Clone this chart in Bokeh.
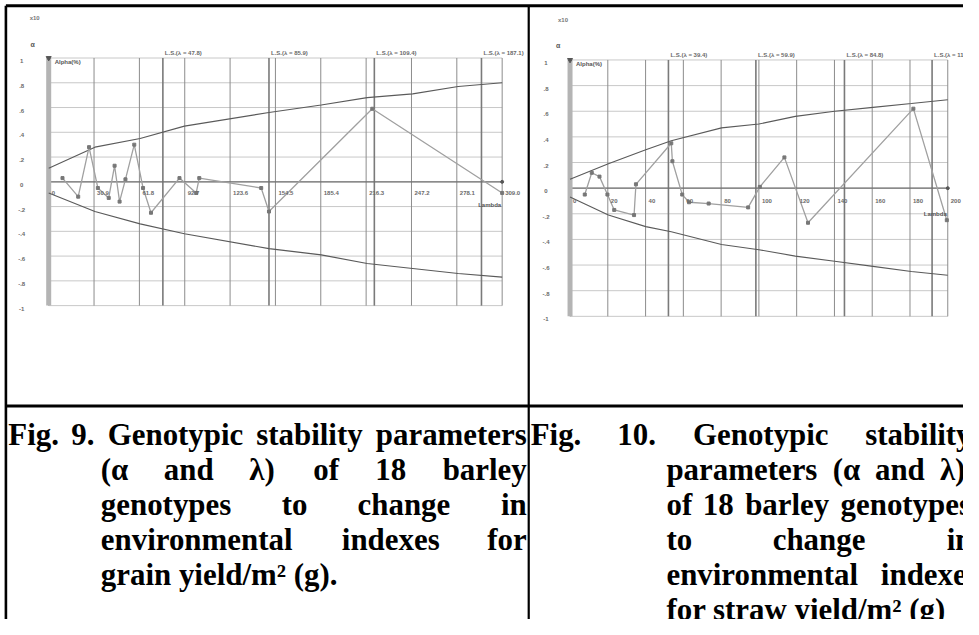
from bokeh.plotting import figure
from bokeh.models import Range1d
from bokeh.embed import file_html
from bokeh.resources import INLINE
from bokeh.core.properties import value

# ---------------- data ----------------
# Fig. 9 : grain yield/m2  -- lambda (x) and alpha (y) of 18 genotypes, sorted by lambda
grain_lambda = [9.4, 20.1, 27.5, 33.5, 40.9, 44.9, 48.3, 52.3, 58.3, 64.3, 69.7,
                89.1, 100.5, 102.6, 144.8, 150.1, 220.5, 309.0]
grain_alpha = [0.03, -0.12, 0.28, -0.05, -0.13, 0.13, -0.16, 0.02, 0.30, -0.05, -0.25,
               0.03, -0.09, 0.03, -0.05, -0.24, 0.59, -0.09]
grain_lim_lambda = [0, 31.5, 62.3, 92.5, 150.1, 185.7, 217.0, 248.0, 279.0, 309.0]
grain_lim_upper = [0.11, 0.28, 0.35, 0.45, 0.56, 0.62, 0.68, 0.71, 0.77, 0.80]
grain_lim_lower = [-0.09, -0.24, -0.34, -0.42, -0.54, -0.59, -0.66, -0.70, -0.74, -0.77]
grain_ls = [77.8, 150.1, 221.9, 294.9]
grain_ls_labels = ["L.S.(λ = 47.8)", "L.S.(λ = 85.9)", "L.S.(λ = 109.4)", "L.S.(λ = 187.1)"]
grain_xticks = [0, 30.9, 61.8, 92.7, 123.6, 154.5, 185.4, 216.3, 247.2, 278.1, 309.0]
grain_xlabels = ["0", "30.9", "61.8", "92.7", "123.6", "154.5", "185.4", "216.3", "247.2", "278.1", "309.0"]

# Fig. 10 : straw yield/m2
straw_lambda = [7.8, 11.5, 15.6, 19.8, 23.4, 33.9, 34.9, 53.6, 54.2, 59.4, 63.0,
                73.4, 94.3, 100.5, 113.5, 126.0, 181.8, 199.5]
straw_alpha = [-0.05, 0.12, 0.09, -0.05, -0.17, -0.21, 0.03, 0.35, 0.21, -0.05, -0.11,
               -0.12, -0.15, 0.01, 0.24, -0.27, 0.62, -0.25]
straw_lim_lambda = [0, 20.3, 40.1, 53.6, 80.2, 100.0, 119.3, 140.1, 160.4, 180.7, 200.0]
straw_lim_upper = [0.07, 0.19, 0.30, 0.37, 0.47, 0.50, 0.56, 0.60, 0.63, 0.66, 0.69]
straw_lim_lower = [-0.07, -0.21, -0.30, -0.34, -0.44, -0.48, -0.53, -0.57, -0.61, -0.65, -0.68]
straw_ls = [52.1, 98.4, 145.3, 191.7]
straw_ls_labels = ["L.S.(λ = 39.4)", "L.S.(λ = 59.9)", "L.S.(λ = 84.8)", "L.S.(λ = 112.6)"]
straw_xticks = [0, 20, 40, 60, 80, 100, 120, 140, 160, 180, 200]
straw_xlabels = ["0", "20", "40", "60", "80", "100", "120", "140", "160", "180", "200"]

alpha_ticks = [1.0, 0.8, 0.6, 0.4, 0.2, 0.0, -0.2, -0.4, -0.6, -0.8, -1.0]
alpha_labels = ["1", ".8", ".6", ".4", ".2", "0", "-.2", "-.4", "-.6", "-.8", "-1"]

# captions: (word, x in the reference's pixel frame, alignment) -- justified table text layout
caption_left = [
    [("Fig.", 8, "left"), ("9.", 72, "left"), ("Genotypic", 109, "left"),
     ("stability", 260, "left"), ("parameters", 535, "right")],
    [("(α", 102, "left"), ("and", 166, "left"), ("λ)", 253, "left"), ("of", 318, "left"),
     ("18", 381, "left"), ("barley", 535, "right")],
    [("genotypes", 102, "left"), ("to", 286, "left"), ("change", 363, "left"), ("in", 535, "right")],
    [("environmental", 102, "left"), ("indexes", 347, "left"), ("for", 535, "right")],
    [("grain yield/m² (g).", 102, "left")],
]
caption_right = [
    [("Fig.", 539, "left"), ("10.", 627, "left"), ("Genotypic", 704, "left"), ("stability", 879, "left")],
    [("parameters", 677, "left"), ("(α", 846, "left"), ("and", 889, "left"), ("λ)", 955, "left")],
    [("of", 677, "left"), ("18", 714, "left"), ("barley", 757, "left"), ("genotypes", 854, "left")],
    [("to", 677, "left"), ("change", 785, "left"), ("in", 962, "left")],
    [("environmental", 677, "left"), ("indexes", 895, "left")],
    [("for straw yield/m² (g)", 677, "left")],
]

# ---------------- figure: the reference's 979x635 frame mapped onto the canvas ----------------
W, H = 963, 619
FX0, FX1, FY0, FY1 = 0, 979, 0, 635

p = figure(width=W, height=H, x_range=Range1d(FX0, FX1), y_range=Range1d(FY1, FY0),
           output_backend="svg", toolbar_location=None, min_border=0,
           x_axis_type=None, y_axis_type=None, outline_line_color=None,
           background_fill_color="white", border_fill_color="white")


def x_span(d0, d1, p0, p1):
    s = (p1 - p0) / (d1 - d0)
    return Range1d(start=d0 - (p0 - FX0) / s, end=d1 + (FX1 - p1) / s)


def y_span(d_top, d_bot, p_top, p_bot):
    s = (p_bot - p_top) / (d_top - d_bot)
    return Range1d(start=d_bot - (FY1 - p_bot) / s, end=d_top + (p_top - FY0) / s)


xr, yr = {}, {}
TICK_FONT = value("Liberation Sans")


def draw_chart(name, lam, alp, lim_x, lim_u, lim_l, ls, ls_labels, xt, xl,
               px0, px1, pyt, pyb, xlab_off, lam_off, ylab_off, alpha_off, unit_off):
    xmax = xt[-1]
    xr[name] = x_span(0, xmax, px0, px1)
    yr[name] = y_span(alpha_ticks[0], alpha_ticks[-1], pyt, pyb)
    kw = dict(x_range_name=name, y_range_name=name)
    ytop, ybot = alpha_ticks[0], alpha_ticks[-1]
    n = len(xt)
    m = len(alpha_ticks)
    k = len(ls)
    # horizontal grid
    p.segment(x0=[0] * m, y0=alpha_ticks, x1=[xmax] * m, y1=alpha_ticks,
              line_color="#c8c8c8", line_width=1, **kw)
    # vertical grid
    p.segment(x0=xt, y0=[ybot] * n, x1=xt, y1=[ytop] * n,
              line_color="#8c8c8c", line_width=1, **kw)
    # significance (L.S.) lines
    p.segment(x0=ls, y0=[ybot] * k, x1=ls, y1=[ytop] * k,
              line_color="#7a7a7a", line_width=1.6, **kw)
    # zero line
    p.segment(x0=[0], y0=[0], x1=[xmax], y1=[0], line_color="#707070", line_width=1.2, **kw)
    # left thick axis band
    p.segment(x0=[0], y0=[ybot], x1=[0], y1=[ytop], line_color="#b4b4b4", line_width=5, **kw)
    p.scatter(x=[0], y=[ytop], marker="inverted_triangle", size=5, color="#555555", **kw)
    p.scatter(x=[xmax], y=[0], marker="circle", size=3, color="#555555", **kw)
    # confidence limits
    p.line(x=lim_x, y=lim_u, line_color="#5a5a5a", line_width=1.1, **kw)
    p.line(x=lim_x, y=lim_l, line_color="#5a5a5a", line_width=1.1, **kw)
    # genotypes
    p.line(x=lam, y=alp, line_color="#a0a0a0", line_width=1.3, **kw)
    p.scatter(x=lam, y=alp, marker="square", size=3, color="#777777", **kw)
    # tick labels and annotations
    p.text(x=xt, y=[0] * n, text=xl, text_font=TICK_FONT, text_font_size="6px",
           text_font_style="bold", text_color="#6a6a6a", text_align="left",
           text_baseline="middle", x_offset=3, y_offset=xlab_off, **kw)
    p.text(x=[0] * m, y=alpha_ticks, text=alpha_labels, text_font=TICK_FONT,
           text_font_size="6px", text_font_style="bold", text_color="#6a6a6a",
           text_align="center", text_baseline="middle", x_offset=ylab_off, y_offset=3, **kw)
    p.text(x=[0], y=[ytop], text=["α"], text_font=TICK_FONT, text_font_size="7px",
           text_font_style="bold", text_color="#555555", text_align="center",
           text_baseline="middle", x_offset=alpha_off, y_offset=-14, **kw)
    p.text(x=[0], y=[ytop], text=["x10"], text_font=TICK_FONT, text_font_size="6px",
           text_font_style="bold", text_color="#777777", text_align="center",
           text_baseline="middle", x_offset=unit_off, y_offset=-40, **kw)
    p.text(x=ls, y=[ytop] * k, text=ls_labels, text_font=TICK_FONT, text_font_size="6px",
           text_font_style="bold", text_color="#6a6a6a", text_align="left",
           text_baseline="bottom", x_offset=2, y_offset=-2, **kw)
    p.text(x=[0], y=[ytop], text=["Alpha(%)"], text_font=TICK_FONT, text_font_size="6px",
           text_font_style="bold", text_color="#555555", text_align="left",
           text_baseline="middle", x_offset=6, y_offset=4, **kw)
    p.text(x=[xmax], y=[0], text=["Lambda"], text_font=TICK_FONT, text_font_size="6px",
           text_font_style="bold", text_color="#555555", text_align="right",
           text_baseline="middle", x_offset=-1, y_offset=lam_off, **kw)


draw_chart("grain", grain_lambda, grain_alpha, grain_lim_lambda, grain_lim_upper, grain_lim_lower,
           grain_ls, grain_ls_labels, grain_xticks, grain_xlabels,
           49, 510, 59, 313, 11, 23, -27, -16, -14)
draw_chart("straw", straw_lambda, straw_alpha, straw_lim_lambda, straw_lim_upper, straw_lim_lower,
           straw_ls, straw_ls_labels, straw_xticks, straw_xlabels,
           579, 963, 61, 324, 13, 26, -24, -12, -7)

p.extra_x_ranges = xr
p.extra_y_ranges = yr

# ---------------- table rules ----------------
p.segment(x0=[5.5, 5.5, 537, 5.5], y0=[5.5, 5.5, 5.5, 416], x1=[5.5, FX1, 537, FX1],
          y1=[FY1, 5.5, FY1, 416], line_color="black", line_width=[2.6, 3, 2.2, 3])

# ---------------- captions ----------------
base0, lead = 445, 36
for cap in (caption_left, caption_right):
    for i, line in enumerate(cap):
        for word, x, align in line:
            p.text(x=[x], y=[base0 + lead * i], text=[word],
                   text_font=value("Liberation Serif"), text_font_style="bold",
                   text_font_size="30.9px", text_color="black", text_align=align,
                   text_baseline="alphabetic")

open("out.html", "w").write(file_html(p, INLINE))
